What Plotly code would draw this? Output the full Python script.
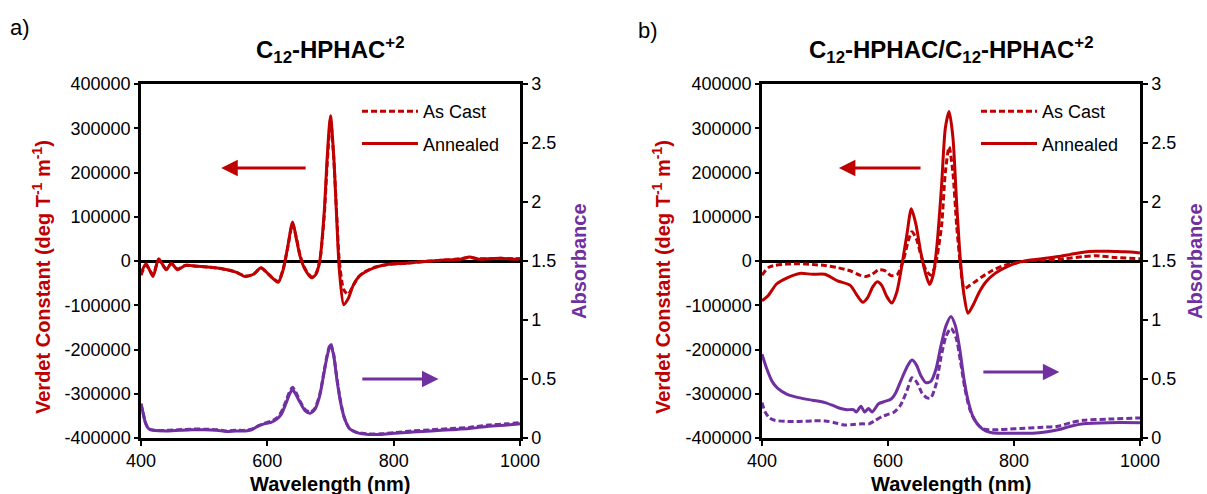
import plotly.graph_objects as go

FONT = "Liberation Sans, Arial, sans-serif"
RED = "#C00000"
PURPLE = "#7030A0"

# ---------------- tick labels ----------------
x_ticks = [400, 600, 800, 1000]
x_ticktext = ["400", "600", "800", "1000"]
vc_ticks = [-400000, -300000, -200000, -100000, 0, 100000, 200000, 300000, 400000]
vc_ticktext = ["-400000", "-300000", "-200000", "-100000", "0", "100000", "200000", "300000", "400000"]
abs_ticks = [0, 0.5, 1, 1.5, 2, 2.5, 3]
abs_ticktext = ["0", "0.5", "1", "1.5", "2", "2.5", "3"]

# ---------------- panel a: C12-HPHAC+2 ----------------
a_ann_wl = [400, 408, 419, 428, 440, 448, 458, 470, 490, 510, 530, 550, 565, 578, 590, 602, 617, 625, 632, 640,
            646, 652, 660, 670, 677, 683, 690, 695, 700, 705, 710, 714, 721, 728, 736, 745, 755, 770, 790, 820,
            850, 880, 905, 920, 935, 950, 970, 990, 1000]
a_ann_vc = [-28000, -6000, -35000, 5000, -20000, -5000, -20000, -10000, -12000, -14000, -18000, -25000, -35000,
            -30000, -15000, -30000, -48000, -20000, 30000, 88000, 50000, 10000, -20000, -38000, -30000, 0, 110000,
            240000, 328000, 240000, 90000, -20000, -99000, -85000, -55000, -35000, -25000, -15000, -8000, -5000,
            -1000, 2000, 4000, 9000, 4000, 5000, 6000, 4000, 5000]
a_cast_wl = [400, 408, 419, 428, 440, 448, 458, 470, 490, 510, 530, 550, 565, 578, 590, 602, 617, 625, 632, 640,
             646, 652, 660, 670, 677, 683, 690, 695, 700, 705, 710, 714, 721, 728, 736, 745, 755, 770, 790, 820,
             850, 880, 905, 920, 935, 950, 970, 990, 1000]
a_cast_vc = [-32000, -10000, -30000, 2000, -18000, -6000, -18000, -10000, -12000, -14000, -18000, -25000, -34000,
             -30000, -16000, -30000, -46000, -18000, 28000, 84000, 52000, 12000, -18000, -36000, -28000, 0, 100000,
             225000, 318000, 235000, 100000, 0, -65000, -75000, -55000, -35000, -24000, -14000, -8000, -5000,
             -1000, 2000, 5000, 8000, 5000, 5000, 6000, 5000, 5000]
a_abs_ann_wl = [400, 403, 407, 412, 420, 440, 460, 480, 500, 520, 535, 550, 565, 575, 585, 595, 605, 615, 622,
                630, 635, 640, 645, 652, 660, 668, 675, 683, 690, 695, 700, 705, 710, 716, 722, 730, 740, 750,
                760, 780, 800, 830, 860, 890, 920, 950, 980, 1000]
a_abs_ann = [0.29, 0.22, 0.13, 0.08, 0.065, 0.06, 0.065, 0.07, 0.07, 0.065, 0.055, 0.06, 0.06, 0.07, 0.1, 0.12,
             0.13, 0.16, 0.2, 0.3, 0.37, 0.41, 0.37, 0.3, 0.23, 0.21, 0.24, 0.36, 0.56, 0.7, 0.79, 0.7, 0.5, 0.3,
             0.17, 0.08, 0.05, 0.035, 0.03, 0.03, 0.04, 0.05, 0.06, 0.07, 0.08, 0.1, 0.11, 0.12]
a_abs_cast_wl = [400, 403, 407, 412, 420, 440, 460, 480, 500, 520, 535, 550, 565, 575, 585, 595, 605, 615, 622,
                 630, 635, 640, 645, 652, 660, 668, 675, 683, 690, 695, 700, 705, 710, 716, 722, 730, 740, 750,
                 760, 780, 800, 830, 860, 890, 920, 950, 980, 1000]
a_abs_cast = [0.29, 0.22, 0.13, 0.08, 0.065, 0.065, 0.07, 0.075, 0.075, 0.07, 0.06, 0.065, 0.065, 0.075, 0.1,
              0.125, 0.14, 0.17, 0.22, 0.32, 0.39, 0.43, 0.39, 0.31, 0.24, 0.22, 0.25, 0.37, 0.57, 0.71, 0.8, 0.71,
              0.51, 0.31, 0.17, 0.08, 0.05, 0.04, 0.035, 0.035, 0.045, 0.06, 0.07, 0.08, 0.09, 0.11, 0.12, 0.13]

# ---------------- panel b: C12-HPHAC/C12-HPHAC+2 ----------------
b_ann_wl = [400, 410, 423, 440, 460, 480, 500, 520, 540, 552, 560, 568, 576, 583, 590, 598, 606, 614, 622, 630,
            637, 644, 652, 660, 666, 672, 678, 685, 691, 697, 703, 709, 715, 721, 727, 735, 745, 755, 770, 790,
            810, 830, 850, 870, 890, 910, 930, 950, 970, 990, 1000]
b_ann_vc = [-90000, -78000, -52000, -38000, -28000, -30000, -30000, -45000, -55000, -80000, -93000, -82000,
            -58000, -47000, -55000, -80000, -95000, -70000, -10000, 60000, 118000, 85000, 20000, -30000, -53000,
            -30000, 40000, 170000, 300000, 338000, 280000, 130000, 0, -80000, -118000, -100000, -70000, -48000,
            -28000, -12000, -2000, 3000, 6000, 10000, 15000, 20000, 22000, 22000, 21000, 20000, 18000]
b_cast_wl = [400, 410, 420, 440, 460, 480, 500, 520, 540, 555, 565, 575, 585, 595, 605, 615, 625, 632, 638, 645,
             652, 660, 668, 675, 685, 691, 697, 703, 709, 715, 721, 730, 740, 750, 765, 780, 800, 820, 850, 880,
             910, 930, 960, 1000]
b_cast_vc = [-32000, -15000, -10000, -7000, -6000, -8000, -10000, -15000, -22000, -32000, -35000, -30000,
             -20000, -22000, -33000, -30000, 5000, 45000, 66000, 50000, 15000, -20000, -32000, -10000, 80000,
             200000, 258000, 200000, 80000, -10000, -62000, -55000, -45000, -35000, -22000, -12000, -5000, 0,
             3000, 5000, 10000, 12000, 8000, 5000]
b_abs_ann_wl = [400, 408, 416, 425, 440, 460, 480, 500, 515, 525, 535, 545, 550, 557, 563, 569, 575, 585, 595,
                605, 612, 620, 630, 638, 645, 652, 660, 668, 676, 684, 692, 700, 707, 714, 720, 727, 735, 745,
                755, 765, 780, 800, 830, 850, 870, 890, 910, 950, 1000]
b_abs_ann = [0.71, 0.58, 0.48, 0.42, 0.37, 0.34, 0.32, 0.3, 0.27, 0.25, 0.24, 0.24, 0.22, 0.27, 0.22, 0.25,
             0.22, 0.29, 0.31, 0.33, 0.38, 0.48, 0.6, 0.66, 0.62, 0.53, 0.47, 0.48, 0.58, 0.78, 0.95, 1.03, 0.95,
             0.75, 0.52, 0.32, 0.18, 0.1, 0.06, 0.045, 0.04, 0.04, 0.04, 0.05, 0.07, 0.1, 0.12, 0.13, 0.13]
b_abs_cast_wl = [400, 405, 412, 420, 440, 460, 480, 500, 515, 530, 545, 560, 570, 580, 590, 600, 610, 620, 630,
                 638, 646, 654, 662, 668, 676, 684, 692, 700, 708, 715, 722, 730, 740, 750, 760, 775, 790, 810,
                 840, 870, 890, 910, 950, 1000]
b_abs_cast = [0.3, 0.22, 0.17, 0.15, 0.14, 0.14, 0.145, 0.145, 0.13, 0.11, 0.115, 0.12, 0.12, 0.15, 0.18, 0.2,
              0.22, 0.28, 0.4, 0.51, 0.47, 0.38, 0.34, 0.34, 0.45, 0.68, 0.86, 0.93, 0.85, 0.65, 0.42, 0.24, 0.13,
              0.08, 0.07, 0.07, 0.075, 0.08, 0.09, 0.1, 0.13, 0.15, 0.16, 0.17]

W, H = 1207, 494
fig = go.Figure()


def add(x, y, color, dash, xa, ya, name=None, legend=None, group=None):
    fig.add_trace(go.Scatter(
        x=x, y=y, mode="lines", xaxis=xa, yaxis=ya, name=name,
        showlegend=legend is not None, legend=legend or "legend", legendgroup=group,
        line=dict(color=color, width=3, dash=dash, shape="spline", smoothing=0.7),
        hoverinfo="skip"))


DASH = "6px,3px"
# panel a
add(a_abs_cast_wl, a_abs_cast, PURPLE, DASH, "x", "y2")
add(a_abs_ann_wl, a_abs_ann, PURPLE, "solid", "x", "y2")
add(a_cast_wl, a_cast_vc, RED, DASH, "x", "y", "As Cast", "legend", "g1")
add(a_ann_wl, a_ann_vc, RED, "solid", "x", "y", "Annealed", "legend", "g2")
# panel b
add(b_abs_cast_wl, b_abs_cast, PURPLE, DASH, "x2", "y4")
add(b_abs_ann_wl, b_abs_ann, PURPLE, "solid", "x2", "y4")
add(b_cast_wl, b_cast_vc, RED, DASH, "x2", "y3", "As Cast", "legend2", "h1")
add(b_ann_wl, b_ann_vc, RED, "solid", "x2", "y3", "Annealed", "legend2", "h2")

tickfont = dict(family=FONT, size=18, color="black")
ydom = [1 - 438 / H, 1 - 84 / H]


def xax(dom, anchor):
    return dict(domain=dom, anchor=anchor, range=[400, 1000], tickvals=x_ticks, ticktext=x_ticktext,
                showline=True, linecolor="black", linewidth=2.5, mirror=True, ticks="outside",
                ticklen=5, tickwidth=2, tickcolor="black", showgrid=False, zeroline=False, tickfont=tickfont,
                automargin=False)


def yleft(anchor):
    return dict(domain=ydom, anchor=anchor, range=[-400000, 400000], tickvals=vc_ticks, ticktext=vc_ticktext,
                showline=True, linecolor="black", linewidth=2.5, ticks="outside", ticklen=4, tickwidth=2,
                tickcolor="black", showgrid=False, zeroline=True, zerolinecolor="black", zerolinewidth=2.5,
                tickfont=tickfont, automargin=False)


def yright(anchor, over):
    return dict(domain=ydom, anchor=anchor, overlaying=over, side="right", range=[0, 3], tickvals=abs_ticks,
                ticktext=abs_ticktext, showline=True, linecolor="black", linewidth=2.5, ticks="outside",
                ticklen=5, tickwidth=2, tickcolor="black", showgrid=False, zeroline=False, tickfont=tickfont,
                automargin=False)


legend_common = dict(bgcolor="rgba(0,0,0,0)", font=dict(family=FONT, size=18, color="black"),
                     yanchor="top", xanchor="left", tracegroupgap=6, itemwidth=56)

fig.update_layout(
    template="none",
    width=W, height=H, margin=dict(l=0, r=0, t=0, b=0, pad=0, autoexpand=False),
    paper_bgcolor="white", plot_bgcolor="white",
    font=dict(family=FONT, color="black"),
    xaxis=xax([141 / W, 520 / W], "y"),
    yaxis=yleft("x"),
    yaxis2=yright("x", "y"),
    xaxis2=xax([762 / W, 1140 / W], "y3"),
    yaxis3=yleft("x2"),
    yaxis4=yright("x2", "y3"),
    legend=dict(x=357 / W, y=1 - 93 / H, **legend_common),
    legend2=dict(x=976 / W, y=1 - 93 / H, **legend_common),
)


def ann(x, y, text, size, color="black", angle=0, bold=True):
    fig.add_annotation(x=x / W, y=1 - y / H, xref="paper", yref="paper", text=f"<b>{text}</b>" if bold else text,
                       showarrow=False, textangle=angle, font=dict(family=FONT, size=size, color=color),
                       xanchor="center", yanchor="middle")


ann(20, 28, "a)", 22, bold=False)
ann(648, 30, "b)", 22, bold=False)
ann(330, 50, "C<sub>12</sub>-HPHAC<sup>+2</sup>", 24)
ann(951, 50, "C<sub>12</sub>-HPHAC/C<sub>12</sub>-HPHAC<sup>+2</sup>", 24)
ann(41, 277, "Verdet Constant (deg T<sup>-1</sup> m<sup>-1</sup>)", 20, RED, -90)
ann(661, 277, "Verdet Constant (deg T<sup>-1</sup> m<sup>-1</sup>)", 20, RED, -90)
ann(579, 261, "Absorbance", 20, PURPLE, -90)
ann(1195, 261, "Absorbance", 20, PURPLE, -90)
ann(330, 484, "Wavelength (nm)", 20)
ann(951, 484, "Wavelength (nm)", 20)


def arrow(xa, ya, tail_x, head_x, yv, color):
    fig.add_annotation(x=head_x, y=yv, ax=tail_x, ay=yv, xref=xa, yref=ya, axref=xa, ayref=ya, text="",
                       showarrow=True, arrowhead=2, arrowsize=1.1, arrowwidth=3, arrowcolor=color)


arrow("x", "y", 663, 527, 210000, RED)
arrow("x", "y2", 748, 871, 0.5, PURPLE)
arrow("x2", "y3", 654, 522, 210000, RED)
arrow("x2", "y4", 749, 872, 0.56, PURPLE)

fig.write_html("out.html", config={"displayModeBar": False},
               post_script="document.body.style.margin='0';")
